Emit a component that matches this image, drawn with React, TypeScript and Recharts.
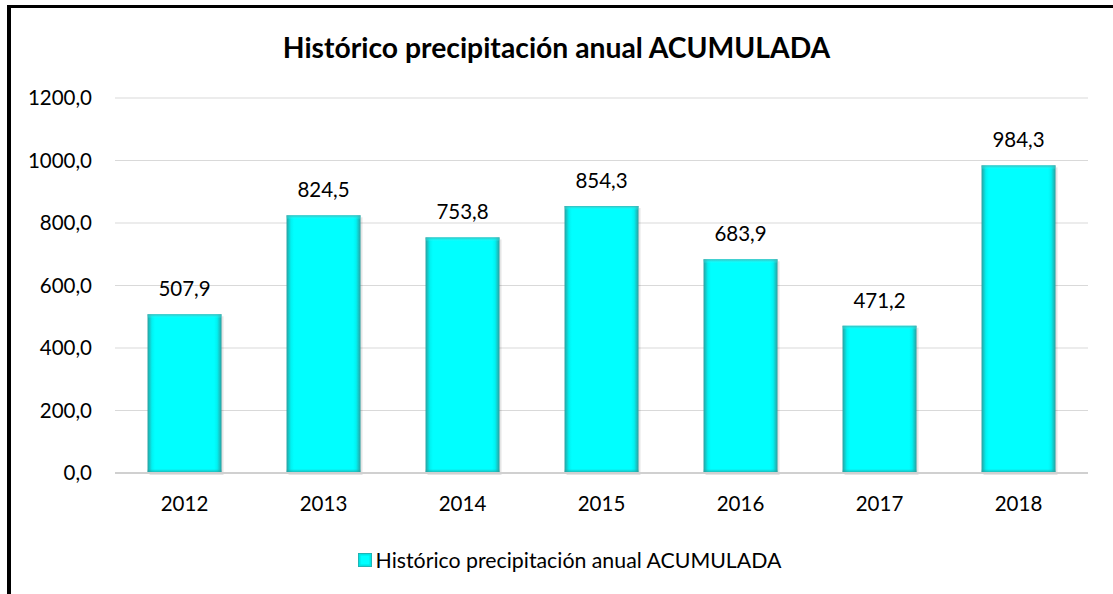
import React from "react";
import { BarChart, Bar, XAxis, YAxis, CartesianGrid, Legend, LabelList } from "recharts";

const years = ["2012", "2013", "2014", "2015", "2016", "2017", "2018"];
const precip = [507.9, 824.5, 753.8, 854.3, 683.9, 471.2, 984.3];
const yTicks = [0, 200, 400, 600, 800, 1000, 1200];
const seriesName = "Histórico precipitación anual ACUMULADA";
const title = "Histórico precipitación anual ACUMULADA";

const data = years.map((y, i) => ({ year: y, value: precip[i] }));

const FONT = "Lato, 'Open Sans', sans-serif";
const fmt = (v: number) => v.toFixed(1).replace(".", ",");

const BevelBar = (props: any) => {
  const { x, y, width, height } = props;
  if (height <= 0) return null;
  return (
    <g>
      <rect x={x + 2} y={y + 2} width={width} height={height} fill="rgba(0,0,0,0.10)" />
      <rect x={x} y={y} width={width} height={height} fill="url(#barH)" />
      <rect x={x} y={y} width={width} height={4} fill="url(#barTop)" />
      <rect x={x} y={y + height - 4} width={width} height={4} fill="url(#barBot)" />
    </g>
  );
};

const LegendContent = () => (
  <div
    style={{
      height: 40,
      display: "flex",
      alignItems: "center",
      justifyContent: "center",
      paddingLeft: 36,
      fontFamily: FONT,
      fontSize: 21.3,
      color: "#000",
    }}
  >
    <svg width={14} height={14} style={{ marginRight: 4 }}>
      <rect x={0} y={0} width={14} height={14} fill="#00e5e5" stroke="#2aa7a7" strokeWidth={1.5} />
      <rect x={2.5} y={2.5} width={9} height={9} fill="#00ffff" />
    </svg>
    <span>{seriesName}</span>
  </div>
);

export default function App() {
  return (
    <div style={{ position: "absolute", left: 0, top: 0, width: 1113, height: 594, background: "#fff", overflow: "hidden" }}>
      <div style={{ position: "absolute", left: 7, top: 5, width: 1106, height: 3, background: "#000" }} />
      <div style={{ position: "absolute", left: 7, top: 5, width: 4, height: 589, background: "#000" }} />
      <div
        style={{
          position: "absolute",
          left: 0,
          top: 30,
          width: 1113,
          textAlign: "center",
          fontFamily: FONT,
          fontWeight: 700,
          fontSize: 28.3,
          lineHeight: "34px",
          color: "#000",
        }}
      >
        {title}
      </div>
      <div style={{ position: "absolute", left: 0, top: 0 }}>
        <BarChart
          width={1113}
          height={594}
          data={data}
          margin={{ top: 98, right: 25, left: 15, bottom: 14 }}
          barCategoryGap="23.4%"
        >
          <defs>
            <linearGradient id="barH" x1="0" y1="0" x2="1" y2="0">
              <stop offset="0" stopColor="#2a9f9f" />
              <stop offset="0.06" stopColor="#00f2f2" />
              <stop offset="0.1" stopColor="#00ffff" />
              <stop offset="0.9" stopColor="#00ffff" />
              <stop offset="0.94" stopColor="#00f2f2" />
              <stop offset="1" stopColor="#2a9f9f" />
            </linearGradient>
            <linearGradient id="barTop" x1="0" y1="0" x2="0" y2="1">
              <stop offset="0" stopColor="#3fb0b0" stopOpacity={0.9} />
              <stop offset="1" stopColor="#40ffff" stopOpacity={0} />
            </linearGradient>
            <linearGradient id="barBot" x1="0" y1="0" x2="0" y2="1">
              <stop offset="0" stopColor="#2a9f9f" stopOpacity={0} />
              <stop offset="1" stopColor="#2a9f9f" stopOpacity={0.9} />
            </linearGradient>
          </defs>
          <CartesianGrid vertical={false} stroke="#d9d9d9" strokeWidth={1} />
          <XAxis
            dataKey="year"
            height={67}
            tickLine={false}
            tickSize={0}
            tickMargin={23}
            axisLine={{ stroke: "#d0d0d0", strokeWidth: 2 }}
            tick={{ fill: "#000", fontSize: 20.5, fontFamily: FONT }}
          />
          <YAxis
            width={100}
            domain={[0, 1200]}
            ticks={yTicks}
            tickFormatter={fmt}
            tickLine={false}
            tickSize={0}
            tickMargin={23}
            axisLine={false}
            tick={{ fill: "#000", fontSize: 20.5, fontFamily: FONT }}
          />
          <Legend verticalAlign="bottom" height={40} content={<LegendContent />} />
          <Bar dataKey="value" name={seriesName} fill="#00ffff" shape={<BevelBar />} isAnimationActive={false}>
            <LabelList
              dataKey="value"
              position="top"
              offset={18}
              formatter={(v: any) => fmt(Number(v))}
              style={{ fill: "#000", fontSize: 20.5, fontFamily: FONT }}
            />
          </Bar>
        </BarChart>
      </div>
    </div>
  );
}
